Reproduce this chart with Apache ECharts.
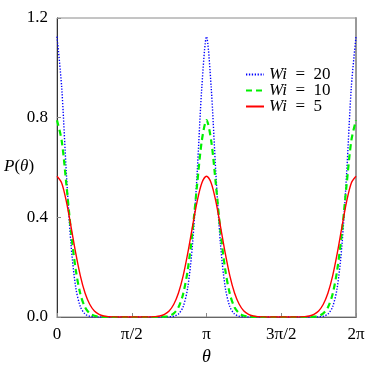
<!DOCTYPE html>
<html>
<head>
<meta charset="utf-8">
<script src="https://cdn.jsdelivr.net/npm/echarts@6/dist/echarts.min.js"></script>
<style>
  html, body { margin: 0; padding: 0; background: #fff; }
  #main { width: 390px; height: 367px; }
</style>
</head>
<body>
<div id="main"></div>
<script>
// theta sampled in units of pi (0 .. 2)
const thetaPi = [0, 0.03125, 0.0625, 0.09375, 0.125, 0.15625, 0.1875, 0.21875, 0.25, 0.28125, 0.3125, 0.34375, 0.375, 0.40625, 0.4375, 0.46875,
  0.5, 0.53125, 0.5625, 0.59375, 0.625, 0.65625, 0.6875, 0.71875, 0.75, 0.78125, 0.8125, 0.84375, 0.875, 0.90625, 0.9375, 0.96875,
  1, 1.03125, 1.0625, 1.09375, 1.125, 1.15625, 1.1875, 1.21875, 1.25, 1.28125, 1.3125, 1.34375, 1.375, 1.40625, 1.4375, 1.46875,
  1.5, 1.53125, 1.5625, 1.59375, 1.625, 1.65625, 1.6875, 1.71875, 1.75, 1.78125, 1.8125, 1.84375, 1.875, 1.90625, 1.9375, 1.96875, 2];

// P(theta)
const wi20 = [1.125, 0.923, 0.578, 0.291, 0.120, 0.041, 0.012, 0.003, 0.0006, 0, 0, 0, 0, 0, 0, 0,
  0, 0, 0, 0, 0, 0, 0, 0, 0.0006, 0.003, 0.012, 0.041, 0.120, 0.291, 0.578, 0.923,
  1.125, 0.923, 0.578, 0.291, 0.120, 0.041, 0.012, 0.003, 0.0006, 0, 0, 0, 0, 0, 0, 0,
  0, 0, 0, 0, 0, 0, 0, 0, 0.0006, 0.003, 0.012, 0.041, 0.120, 0.291, 0.578, 0.923, 1.125];
const wi10 = [0.79, 0.708, 0.533, 0.343, 0.191, 0.0925, 0.039, 0.0145, 0.0047, 0.0014, 0.0003, 0, 0, 0, 0, 0,
  0, 0, 0, 0, 0, 0, 0.0003, 0.0014, 0.0047, 0.0145, 0.039, 0.0925, 0.191, 0.343, 0.533, 0.708,
  0.79, 0.708, 0.533, 0.343, 0.191, 0.0925, 0.039, 0.0145, 0.0047, 0.0014, 0.0003, 0, 0, 0, 0, 0,
  0, 0, 0, 0, 0, 0, 0.0003, 0.0014, 0.0047, 0.0145, 0.039, 0.0925, 0.191, 0.343, 0.533, 0.708, 0.79];
const wi5 = [0.565, 0.538, 0.464, 0.363, 0.257, 0.165, 0.096, 0.051, 0.024, 0.0105, 0.004, 0.0015, 0.0005, 0.0001, 0, 0,
  0, 0, 0, 0.0001, 0.0005, 0.0015, 0.004, 0.0105, 0.024, 0.051, 0.096, 0.165, 0.257, 0.363, 0.464, 0.538,
  0.565, 0.538, 0.464, 0.363, 0.257, 0.165, 0.096, 0.051, 0.024, 0.0105, 0.004, 0.0015, 0.0005, 0.0001, 0, 0,
  0, 0, 0, 0.0001, 0.0005, 0.0015, 0.004, 0.0105, 0.024, 0.051, 0.096, 0.165, 0.257, 0.363, 0.464, 0.538, 0.565];

const xTickLabels = ['0', 'π/2', 'π', '3π/2', '2π'];
const seriesNames = ['20', '10', '5'];

const serif = 'Liberation Serif';

function pairs(ys) {
  return thetaPi.map((x, i) => [x, ys[i]]);
}

let option = {
  animation: false,
  grid: {
    left: 57, right: 34, top: 18, bottom: 50,
    outerBoundsMode: 'none', containLabel: false,
    show: true, borderColor: '#8a8a8a', borderWidth: 1
  },
  legend: {
    orient: 'vertical',
    left: 240, top: 61,
    itemWidth: 18, itemHeight: 10, itemGap: -1,
    itemStyle: { opacity: 0 },
    data: seriesNames.map(n => 'Wi = ' + n),
    formatter: name => '{i|Wi}\u2002=\u2002' + name.split('= ')[1],
    textStyle: {
      fontFamily: serif, fontSize: 17, color: '#000', lineHeight: 15,
      rich: { i: { fontFamily: serif, fontSize: 17, fontStyle: 'italic', color: '#000', lineHeight: 15 } }
    }
  },
  xAxis: {
    type: 'value', min: 0, max: 2, interval: 0.5,
    name: 'θ', nameLocation: 'middle', nameGap: 31,
    nameTextStyle: { fontFamily: serif, fontSize: 18, fontStyle: 'italic', color: '#000' },
    axisLine: { lineStyle: { color: '#666', width: 1 } },
    axisTick: { inside: true, length: 4, lineStyle: { color: '#888' } },
    axisLabel: {
      fontFamily: serif, fontSize: 17, color: '#000', margin: 9,
      formatter: v => xTickLabels[Math.round(v / 0.5)]
    },
    splitLine: { show: false }
  },
  yAxis: [{
    type: 'value', min: 0, max: 1.2, interval: 0.4,
    axisLine: { show: true, lineStyle: { color: '#333', width: 1 } },
    axisTick: { show: true, inside: true, length: 4, lineStyle: { color: '#888' } },
    axisLabel: {
      fontFamily: serif, fontSize: 17, color: '#000', margin: 9,
      formatter: v => v.toFixed(1)
    },
    splitLine: { show: false }
  }, {
    // plain right edge of the frame
    type: 'value', min: 0, max: 1.2, interval: 0.4, position: 'right',
    axisLine: { show: true, lineStyle: { color: '#999', width: 2 } },
    axisTick: { show: false }, axisLabel: { show: false }, splitLine: { show: false }
  }],
  graphic: [{
    type: 'text', left: 4, top: 158,
    style: {
      text: '{i|P}({i|θ})',
      font: '17px ' + serif, fill: '#000',
      rich: { i: { fontFamily: serif, fontSize: 17, fontStyle: 'italic', fill: '#000' } }
    }
  }],
  series: [
    {
      name: 'Wi = 20', type: 'line', data: pairs(wi20), symbol: 'none', smooth: 0.3,
      lineStyle: { color: '#0000ff', width: 1.4, type: [1.3, 1.6] },
      itemStyle: { color: '#0000ff' }
    },
    {
      name: 'Wi = 10', type: 'line', data: pairs(wi10), symbol: 'none', smooth: 0.3,
      lineStyle: { color: '#00f000', width: 2.2, type: [6, 4] },
      itemStyle: { color: '#00f000' }
    },
    {
      name: 'Wi = 5', type: 'line', data: pairs(wi5), symbol: 'none', smooth: 0.3,
      lineStyle: { color: '#ff0000', width: 1.4 },
      itemStyle: { color: '#ff0000' }
    }
  ]
};

let myChart = echarts.init(document.getElementById('main'));
myChart.setOption(option);
</script>
</body>
</html>
